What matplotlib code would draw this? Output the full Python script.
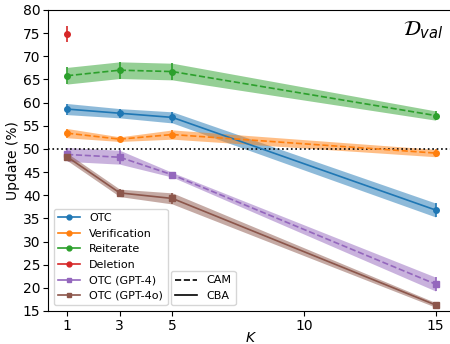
import numpy as np
import matplotlib.pyplot as plt
from matplotlib.lines import Line2D

ks = [1, 3, 5, 15]

otc = [58.6, 57.7, 56.8, 36.8]
otc_err = [1.2, 1.0, 1.2, 1.5]
verif = [53.4, 52.1, 53.1, 49.1]
verif_err = [1.0, 0.5, 1.0, 0.8]
reit = [65.8, 67.0, 66.7, 57.2]
reit_err = [1.8, 1.8, 1.8, 1.0]
deletion = [74.8]
deletion_err = [1.7]
otc_gpt4 = [48.8, 48.2, 44.4, 20.8]
otc_gpt4_err = [1.5, 1.5, 0.5, 1.5]
otc_gpt4o = [48.3, 40.5, 39.3, 16.3]
otc_gpt4o_err = [0.8, 0.8, 1.2, 0.5]

fig = plt.figure(figsize=(4.5, 3.44), dpi=100)
ax = fig.add_axes([0.107, 0.096, 0.902, 0.875])

series = [
    ("OTC", ks, otc, otc_err, "C0", "-", "o"),
    ("Verification", ks, verif, verif_err, "C1", "--", "o"),
    ("Reiterate", ks, reit, reit_err, "C2", "--", "o"),
    ("Deletion", [1], deletion, deletion_err, "C3", "-", "o"),
    ("OTC (GPT-4)", ks, otc_gpt4, otc_gpt4_err, "C4", "--", "s"),
    ("OTC (GPT-4o)", ks, otc_gpt4o, otc_gpt4o_err, "C5", "-", "s"),
]

handles = []
for name, x, y, e, c, ls, m in series:
    y = np.array(y)
    e = np.array(e)
    ax.fill_between(x, y - e, y + e, color=c, alpha=0.5, lw=0)
    ax.errorbar(x, y, yerr=e, color=c, ls=ls, marker=m, ms=4, lw=1.2, capsize=0)
    handles.append(Line2D([], [], color=c, marker=m, ms=3.5, lw=1.2, label=name))

ax.axhline(50, color="black", ls=":", lw=1.2)

ax.set_xlim(0.28, 15.7)
ax.set_ylim(15, 80)
ax.set_xticks([1, 3, 5, 10, 15])
ax.set_yticks(range(15, 81, 5))
ax.tick_params(labelsize=10, pad=2)
ax.set_xlabel("$K$", fontsize=10, labelpad=-1)
ax.set_ylabel("Update (%)", fontsize=10, labelpad=2)

ax.text(0.975, 0.97, r"$\mathcal{D}_{val}$", transform=ax.transAxes,
        ha="right", va="top", fontsize=15)

leg1 = ax.legend(handles=handles, loc="lower left", fontsize=8,
                 bbox_to_anchor=(0.0, 0.0))
ax.add_artist(leg1)
style_handles = [Line2D([], [], color="black", ls="--", lw=1.2, label="CAM"),
                 Line2D([], [], color="black", ls="-", lw=1.2, label="CBA")]
ax.legend(handles=style_handles, loc="lower left", fontsize=8,
          bbox_to_anchor=(0.288, 0.0))

fig.savefig("out.png", dpi=100)
